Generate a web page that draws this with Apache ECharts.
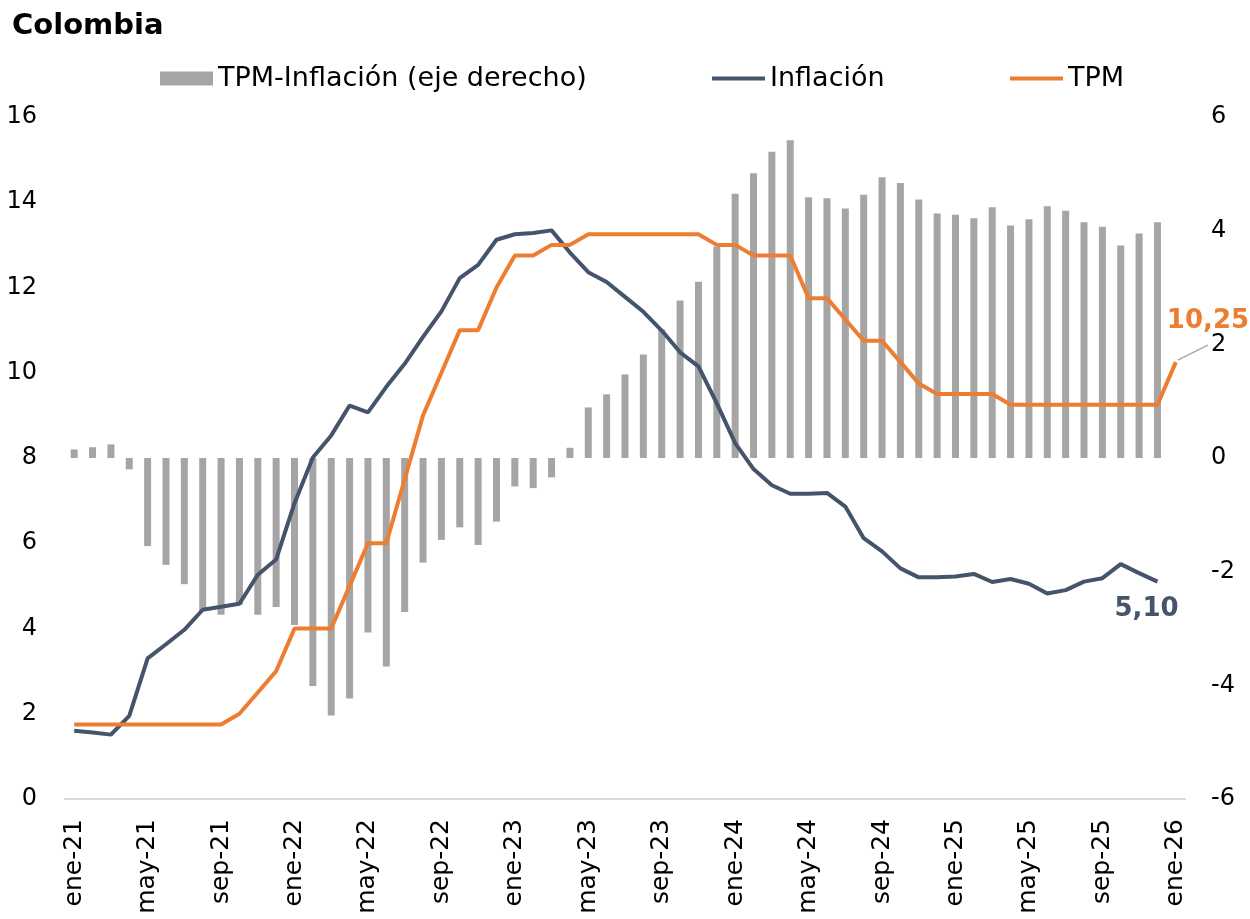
<!DOCTYPE html>
<html>
<head>
<meta charset="utf-8">
<script src="https://cdn.jsdelivr.net/npm/echarts@6/dist/echarts.min.js"></script>
<style>
  html, body { margin: 0; padding: 0; background: #fff; }
  #chart { width: 1250px; height: 919px; }
</style>
</head>
<body>
<div id="chart"></div>
<script>
// meses (eje x): ene-21 ... ene-26
const meses = ['ene', 'feb', 'mar', 'abr', 'may', 'jun', 'jul', 'ago', 'sep', 'oct', 'nov', 'dic'];
const anios = ['21', '22', '23', '24', '25', '26'];
const categorias = [];
anios.forEach((a) => {
  meses.forEach((m) => {
    if (categorias.length < 61) categorias.push(`${m}-${a}`);
  });
});

// Inflación anual (%), eje izquierdo
const inflacion = [
  1.60, 1.56, 1.51, 1.95, 3.30, 3.63, 3.97, 4.44, 4.51, 4.58, 5.26, 5.62,
  6.94, 8.01, 8.53, 9.23, 9.07, 9.67, 10.21, 10.84, 11.44, 12.22, 12.53, 13.12,
  13.25, 13.28, 13.34, 12.82, 12.36, 12.13, 11.78, 11.43, 10.99, 10.48, 10.15, 9.28,
  8.35, 7.74, 7.36, 7.16, 7.16, 7.18, 6.86, 6.12, 5.81, 5.41, 5.20, 5.20,
  5.22, 5.28, 5.09, 5.16, 5.05, 4.82, 4.90, 5.10, 5.18, 5.51, 5.30, 5.10,
  null
];

// TPM (%), eje izquierdo
const tpm = [
  1.75, 1.75, 1.75, 1.75, 1.75, 1.75, 1.75, 1.75, 1.75, 2.00, 2.50, 3.00,
  4.00, 4.00, 4.00, 5.00, 6.00, 6.00, 7.50, 9.00, 10.00, 11.00, 11.00, 12.00,
  12.75, 12.75, 13.00, 13.00, 13.25, 13.25, 13.25, 13.25, 13.25, 13.25, 13.25, 13.00,
  13.00, 12.75, 12.75, 12.75, 11.75, 11.75, 11.25, 10.75, 10.75, 10.25, 9.75, 9.50,
  9.50, 9.50, 9.50, 9.25, 9.25, 9.25, 9.25, 9.25, 9.25, 9.25, 9.25, 9.25,
  10.25
];

// TPM - Inflación (pp), eje derecho
const diferencial = [
  0.15, 0.19, 0.24, -0.20, -1.55, -1.88, -2.22, -2.69, -2.76, -2.58, -2.76, -2.62,
  -2.94, -4.01, -4.53, -4.23, -3.07, -3.67, -2.71, -1.84, -1.44, -1.22, -1.53, -1.12,
  -0.50, -0.53, -0.34, 0.18, 0.89, 1.12, 1.47, 1.82, 2.26, 2.77, 3.10, 3.72,
  4.65, 5.01, 5.39, 5.59, 4.59, 4.57, 4.39, 4.63, 4.94, 4.84, 4.55, 4.30,
  4.28, 4.22, 4.41, 4.09, 4.20, 4.43, 4.35, 4.15, 4.07, 3.74, 3.95, 4.15,
  null
];

const ticksIzq = [0, 16, 2];
const ticksDer = [-6, 6, 2];

const FUENTE = 'DejaVu Sans';
const GRIS = '#A5A5A5';
const AZUL = '#44546A';
const NARANJA = '#ED7D31';
const ICONO_LINEA = 'path://M0,0L52,0L52,4L0,4Z';

const fmt = (v) => v.toFixed(2).replace('.', ',');

const leyenda = (left, item) => ({
  left: left, top: 65, padding: 0,
  itemWidth: 53, itemHeight: 14,
  textStyle: { fontFamily: FUENTE, fontSize: 27, color: '#000' },
  data: [item],
});

const chart = echarts.init(document.getElementById('chart'), null, { renderer: 'canvas' });

chart.setOption({
  animation: false,
  backgroundColor: '#fff',
  textStyle: { fontFamily: FUENTE },
  title: {
    text: 'Colombia',
    left: 7,
    top: 7,
    textStyle: { fontFamily: FUENTE, fontSize: 29, fontWeight: 'bold', color: '#000' },
  },
  legend: [
    leyenda(160, { name: 'TPM-Inflación (eje derecho)', icon: 'rect' }),
    leyenda(712, { name: 'Inflación', icon: ICONO_LINEA }),
    leyenda(1010, { name: 'TPM', icon: ICONO_LINEA }),
  ],
  grid: { left: 65, right: 65, top: 117, bottom: 120, containLabel: false },
  xAxis: {
    type: 'category',
    data: categorias,
    boundaryGap: true,
    axisLine: { onZero: false, lineStyle: { color: '#D9D9D9', width: 2 } },
    axisTick: { show: false },
    axisLabel: {
      interval: 3, rotate: 90, margin: 20,
      fontFamily: FUENTE, fontSize: 25, color: '#000',
    },
    splitLine: { show: false },
  },
  yAxis: [
    {
      type: 'value',
      min: ticksIzq[0], max: ticksIzq[1], interval: ticksIzq[2],
      axisLine: { show: false },
      axisTick: { show: false },
      splitLine: { show: false },
      axisLabel: { margin: 28, fontFamily: FUENTE, fontSize: 24, color: '#000' },
    },
    {
      type: 'value',
      position: 'right',
      min: ticksDer[0], max: ticksDer[1], interval: ticksDer[2],
      axisLine: { show: false },
      axisTick: { show: false },
      splitLine: { show: false },
      axisLabel: { margin: 26, fontFamily: FUENTE, fontSize: 24, color: '#000' },
    },
  ],
  series: [
    {
      name: 'TPM-Inflación (eje derecho)',
      type: 'bar',
      yAxisIndex: 1,
      data: diferencial,
      barWidth: 7,
      itemStyle: { color: GRIS },
      z: 1,
    },
    {
      name: 'Inflación',
      type: 'line',
      yAxisIndex: 0,
      data: inflacion,
      symbol: 'none',
      lineStyle: { color: AZUL, width: 4 },
      itemStyle: { color: AZUL },
      endLabel: {
        show: true,
        formatter: (p) => fmt(p.value),
        offset: [-51, 28],
        fontFamily: FUENTE, fontSize: 26, fontWeight: 'bold', color: AZUL,
      },
      z: 3,
    },
    {
      name: 'TPM',
      type: 'line',
      yAxisIndex: 0,
      data: tpm,
      symbol: 'none',
      lineStyle: { color: NARANJA, width: 4 },
      itemStyle: { color: NARANJA },
      endLabel: {
        show: true,
        formatter: (p) => fmt(p.value),
        offset: [-17, -41],
        fontFamily: FUENTE, fontSize: 26, fontWeight: 'bold', color: NARANJA,
      },
      z: 4,
    },
  ],
});

// linea guia de la etiqueta de la TPM (posicion sacada del propio eje)
const ultimo = tpm.length - 1;
const p = chart.convertToPixel({ xAxisIndex: 0, yAxisIndex: 0 }, [ultimo, tpm[ultimo]]);
chart.setOption({
  graphic: [{
    type: 'line',
    shape: { x1: p[0] + 2, y1: p[1] - 2, x2: p[0] + 32, y2: p[1] - 17 },
    style: { stroke: GRIS, lineWidth: 1.5 },
    z: 10,
  }],
});
</script>
</body>
</html>
